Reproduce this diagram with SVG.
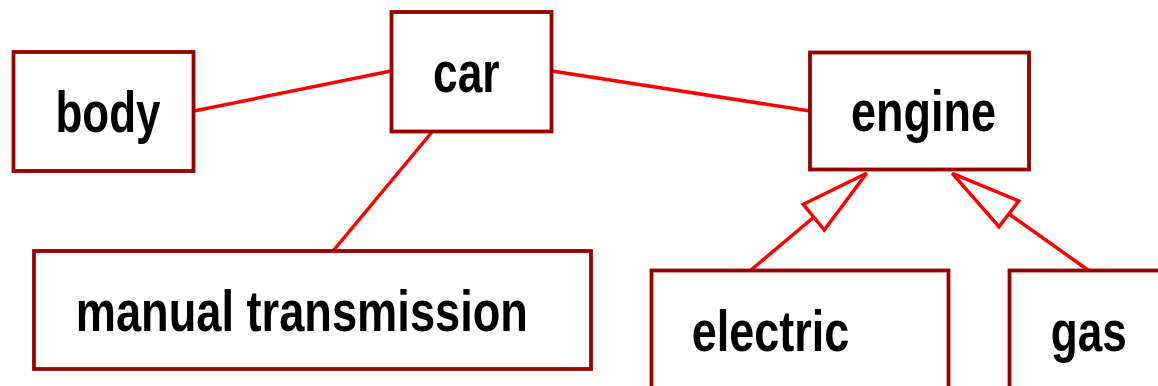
<svg xmlns="http://www.w3.org/2000/svg" width="1158" height="386" viewBox="0 0 1158 386">
<style>
.box{fill:#fff;stroke:#990000;stroke-width:3.8}
.lbl{font-family:"Liberation Sans",Arial,sans-serif;font-weight:bold;font-size:58px;fill:#000}
.con{stroke:#ff0000;stroke-width:3.5;fill:none}
.tri{stroke:#ff0000;stroke-width:3.5;fill:#fff;stroke-linejoin:miter}
</style>
<rect width="1158" height="386" fill="#fff"/>
<g id="connectors">
<line class="con" x1="194" y1="111" x2="391" y2="71"/>
<line class="con" x1="552" y1="71" x2="810" y2="111"/>
<line class="con" x1="432" y1="132" x2="333" y2="251"/>
<line class="con" x1="751" y1="270" x2="814" y2="217"/>
<polygon class="tri" points="866.7,173.3 803.3,204.3 824.3,230"/>
<line class="con" x1="1088" y1="270" x2="1009" y2="214"/>
<polygon class="tri" points="952.3,173.3 1018.7,201 999,226.7"/>
</g>
<g id="body">
<rect class="box" x="13.5" y="52" width="180" height="119"/>
<text class="lbl" x="55.5" y="131.7" textLength="105" lengthAdjust="spacingAndGlyphs">body</text>
</g>
<g id="car">
<rect class="box" x="391.5" y="12" width="160" height="119.5"/>
<text class="lbl" x="433" y="91.7" textLength="66.5" lengthAdjust="spacingAndGlyphs">car</text>
</g>
<g id="engine">
<rect class="box" x="810" y="52.5" width="219" height="117"/>
<text class="lbl" x="851" y="130.7" textLength="145" lengthAdjust="spacingAndGlyphs">engine</text>
</g>
<g id="manual_transmission">
<rect class="box" x="34" y="251" width="557" height="118"/>
<text class="lbl" x="75.7" y="330.7" textLength="452.3" lengthAdjust="spacingAndGlyphs">manual transmission</text>
</g>
<g id="electric">
<rect class="box" x="651.5" y="270.5" width="297" height="130"/>
<text class="lbl" x="691.7" y="351" textLength="157.6" lengthAdjust="spacingAndGlyphs">electric</text>
</g>
<g id="gas">
<rect class="box" x="1009.5" y="270.5" width="170" height="130"/>
<text class="lbl" x="1050.7" y="351" textLength="76" lengthAdjust="spacingAndGlyphs">gas</text>
</g>
</svg>
